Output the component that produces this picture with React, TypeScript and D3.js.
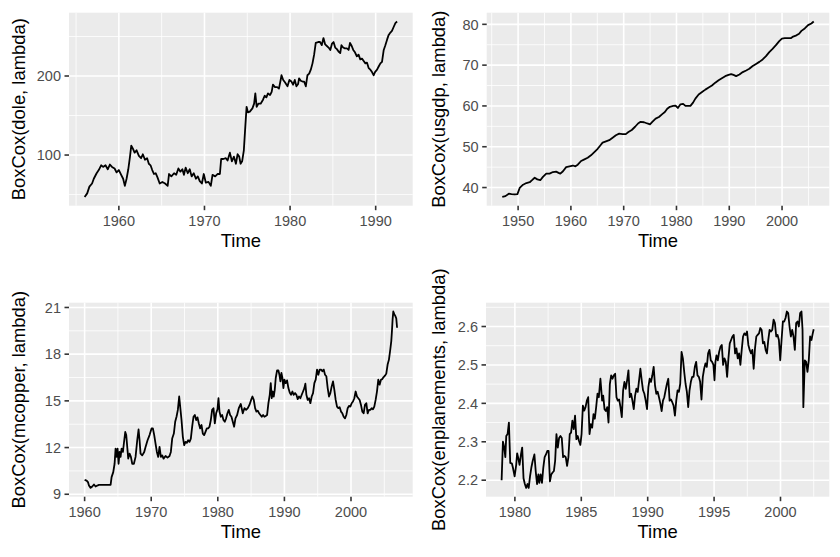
import React from "react";
import * as d3 from "d3";

// ---- Data: [decimal year, BoxCox value] ----
const doleData: [number, number][] = [
  [1956.0, 47], [1956.3, 51.5], [1956.56, 60], [1956.87, 64], [1957.07, 70], [1957.4, 77], [1957.65, 81],
  [1957.93, 87], [1958.16, 85], [1958.44, 87], [1958.7, 82], [1958.95, 88], [1959.2, 85], [1959.5, 83],
  [1959.73, 78], [1960.0, 81], [1960.27, 75], [1960.5, 70], [1960.7, 61], [1960.9, 70], [1961.1, 82],
  [1961.3, 98], [1961.45, 112], [1961.64, 108], [1961.84, 103], [1962.07, 106], [1962.34, 99], [1962.6, 96],
  [1962.8, 101], [1963.05, 94], [1963.3, 96], [1963.5, 89], [1963.7, 87], [1963.9, 81], [1964.1, 76],
  [1964.3, 77], [1964.5, 72], [1964.77, 64], [1965.08, 66], [1965.4, 64], [1965.7, 61], [1965.86, 76],
  [1966.13, 73], [1966.45, 77], [1966.7, 75], [1966.95, 83], [1967.19, 79], [1967.42, 82], [1967.6, 75],
  [1967.8, 84], [1968.05, 77], [1968.28, 82], [1968.5, 73], [1968.75, 77], [1969.0, 70], [1969.22, 73],
  [1969.45, 67], [1969.7, 64], [1969.92, 76], [1970.16, 65], [1970.47, 66], [1970.74, 61], [1970.94, 75],
  [1971.25, 73], [1971.52, 76], [1971.8, 76], [1971.95, 95], [1972.2, 95], [1972.5, 96], [1972.7, 93],
  [1972.97, 103], [1973.2, 92], [1973.44, 98], [1973.67, 89], [1973.87, 101], [1974.06, 98], [1974.22, 89],
  [1974.4, 92], [1974.6, 106], [1974.77, 136], [1974.92, 161], [1975.08, 154], [1975.3, 155], [1975.6, 159],
  [1975.8, 165], [1975.94, 178], [1976.1, 161], [1976.3, 165], [1976.56, 165], [1976.84, 170], [1977.03, 175],
  [1977.23, 173], [1977.42, 178], [1977.66, 176], [1977.85, 180], [1978.0, 189], [1978.24, 186], [1978.5, 186],
  [1978.7, 184], [1978.9, 195], [1979.0, 201], [1979.2, 195], [1979.4, 192], [1979.7, 187], [1979.92, 195],
  [1980.16, 193], [1980.35, 189], [1980.55, 195], [1980.74, 187], [1980.94, 190], [1981.05, 197], [1981.25, 194],
  [1981.45, 193], [1981.64, 193], [1981.84, 187], [1982.03, 201], [1982.23, 203], [1982.42, 208], [1982.62, 216],
  [1982.81, 227], [1983.0, 242], [1983.28, 243], [1983.5, 243], [1983.7, 239], [1983.9, 248], [1984.1, 240],
  [1984.3, 238], [1984.5, 236], [1984.7, 233], [1984.9, 241], [1985.08, 243], [1985.27, 236], [1985.47, 234],
  [1985.66, 231], [1985.86, 229], [1986.0, 239], [1986.2, 236], [1986.4, 235], [1986.64, 235], [1986.84, 233],
  [1987.0, 242], [1987.2, 238], [1987.38, 233], [1987.58, 230], [1987.8, 225], [1988.0, 227], [1988.2, 221],
  [1988.4, 222], [1988.6, 219], [1988.8, 216], [1988.98, 217], [1989.18, 210], [1989.38, 208], [1989.57, 205],
  [1989.77, 201], [1989.92, 205], [1990.16, 208], [1990.35, 212], [1990.55, 216], [1990.74, 218], [1990.94, 233],
  [1991.13, 239], [1991.33, 246], [1991.52, 252], [1991.72, 255], [1991.9, 257], [1992.1, 262], [1992.3, 267],
  [1992.5, 269],
];

const usgdpData: [number, number][] = [
  [1947.0, 37.7], [1947.6, 37.9], [1948.24, 38.5], [1948.74, 38.4], [1949.37, 38.3], [1949.87, 38.4],
  [1950.3, 39.9], [1950.94, 40.7], [1951.57, 41.1], [1952.2, 41.3], [1952.64, 41.8], [1953.14, 42.4],
  [1953.64, 42.0], [1954.2, 41.8], [1954.7, 42.6], [1955.33, 43.4], [1955.96, 43.4], [1956.6, 43.8],
  [1957.2, 43.9], [1957.66, 43.6], [1958.0, 43.4], [1958.5, 44.0], [1959.1, 45.0], [1959.73, 45.2],
  [1960.38, 45.4], [1960.86, 45.2], [1961.3, 45.6], [1961.93, 46.5], [1962.56, 46.9], [1963.18, 47.3],
  [1963.8, 47.9], [1964.44, 48.7], [1965.07, 49.5], [1965.57, 50.3], [1966.0, 51.0], [1966.64, 51.3],
  [1967.26, 51.6], [1967.9, 52.2], [1968.52, 52.8], [1969.15, 53.2], [1969.78, 53.1], [1970.4, 53.1],
  [1970.9, 53.6], [1971.53, 54.1], [1972.16, 54.9], [1972.72, 55.7], [1973.2, 56.1], [1973.85, 56.0],
  [1974.48, 55.7], [1974.98, 55.5], [1975.42, 56.1], [1976.05, 56.9], [1976.68, 57.3], [1977.3, 58.0],
  [1977.8, 58.5], [1978.25, 59.3], [1978.75, 59.8], [1979.38, 60.0], [1979.82, 60.1], [1980.26, 59.5],
  [1980.76, 60.4], [1981.26, 60.5], [1981.7, 60.0], [1982.14, 60.0], [1982.64, 60.0], [1983.14, 60.8],
  [1983.58, 61.8], [1984.2, 62.8], [1984.84, 63.4], [1985.47, 64.0], [1986.1, 64.5], [1986.72, 65.0],
  [1987.35, 65.7], [1987.98, 66.3], [1988.6, 66.8], [1989.23, 67.3], [1989.86, 67.6], [1990.36, 67.8],
  [1990.8, 67.6], [1991.3, 67.3], [1991.93, 67.7], [1992.56, 68.3], [1993.2, 68.7], [1993.8, 69.1],
  [1994.44, 69.8], [1995.07, 70.3], [1995.7, 70.8], [1996.33, 71.4], [1996.96, 72.2], [1997.58, 73.2],
  [1998.2, 74.0], [1998.84, 74.9], [1999.47, 75.9], [1999.97, 76.5], [2000.53, 76.6], [2001.16, 76.6],
  [2001.66, 76.6], [2002.1, 77.0], [2002.73, 77.3], [2003.23, 77.7], [2003.67, 78.4], [2004.3, 79.0],
  [2004.93, 79.8], [2005.55, 80.2], [2006.0, 80.7],
];

const mcopperData: [number, number][] = [
  [1960.0, 9.93], [1960.3, 9.88], [1960.5, 9.78], [1960.65, 9.56], [1960.9, 9.41], [1961.15, 9.5],
  [1961.4, 9.63], [1961.65, 9.5], [1961.9, 9.56], [1962.15, 9.6], [1963.9, 9.6], [1964.05, 10.1],
  [1964.3, 10.42], [1964.5, 10.96], [1964.65, 11.93], [1964.8, 11.4], [1964.95, 11.93], [1965.1, 10.96],
  [1965.25, 11.72], [1965.4, 11.4], [1965.55, 11.93], [1965.75, 11.72], [1965.95, 12.47], [1966.1, 13.0],
  [1966.25, 12.8], [1966.4, 12.04], [1966.55, 11.29], [1966.75, 11.61], [1966.95, 11.4], [1967.15, 10.96],
  [1967.4, 10.96], [1967.65, 11.4], [1967.9, 12.47], [1968.1, 13.16], [1968.25, 12.47], [1968.4, 11.61],
  [1968.65, 11.5], [1968.95, 11.72], [1969.15, 12.04], [1969.45, 12.47], [1969.75, 12.8], [1970.05, 13.23],
  [1970.25, 13.23], [1970.45, 12.8], [1970.65, 12.26], [1970.85, 11.72], [1971.05, 11.4], [1971.25, 12.04],
  [1971.45, 11.4], [1971.65, 11.5], [1971.85, 11.29], [1972.15, 11.46], [1972.45, 11.35], [1972.75, 11.46],
  [1972.95, 11.72], [1973.15, 12.58], [1973.4, 12.9], [1973.6, 13.66], [1973.8, 13.98], [1974.0, 14.42],
  [1974.2, 15.28], [1974.35, 14.63], [1974.55, 13.77], [1974.75, 12.69], [1974.95, 12.15], [1975.15, 12.37],
  [1975.35, 12.3], [1975.55, 12.47], [1975.75, 12.37], [1975.95, 12.58], [1976.15, 13.34], [1976.35, 13.98],
  [1976.55, 14.09], [1976.75, 13.77], [1976.95, 13.94], [1977.15, 13.55], [1977.35, 13.23], [1977.55, 13.45],
  [1977.75, 12.9], [1977.95, 12.8], [1978.15, 13.01], [1978.35, 13.23], [1978.55, 13.23], [1978.75, 13.34],
  [1978.95, 13.77], [1979.15, 14.42], [1979.35, 14.53], [1979.55, 13.55], [1979.75, 14.2], [1979.95, 14.46],
  [1980.1, 15.17], [1980.25, 14.31], [1980.45, 13.98], [1980.65, 14.09], [1980.85, 13.77], [1981.05, 13.66],
  [1981.25, 13.88], [1981.45, 14.2], [1981.65, 14.42], [1981.85, 14.09], [1982.05, 13.98], [1982.25, 13.66],
  [1982.45, 13.34], [1982.65, 13.88], [1982.9, 14.09], [1983.15, 14.53], [1983.45, 14.8], [1983.75, 14.2],
  [1984.0, 14.53], [1984.25, 14.42], [1984.5, 14.53], [1984.75, 14.74], [1985.0, 15.06], [1985.2, 15.28],
  [1985.4, 15.06], [1985.6, 14.53], [1985.8, 14.31], [1986.0, 14.37], [1986.2, 14.2], [1986.4, 14.09],
  [1986.6, 13.98], [1986.8, 14.09], [1987.0, 13.98], [1987.2, 14.03], [1987.4, 14.09], [1987.6, 14.85],
  [1987.8, 15.39], [1987.95, 16.14], [1988.1, 15.17], [1988.25, 15.6], [1988.4, 15.28], [1988.55, 15.71],
  [1988.7, 16.47], [1988.9, 16.96], [1989.1, 16.96], [1989.25, 16.68], [1989.4, 16.25], [1989.55, 16.79],
  [1989.7, 16.47], [1989.85, 15.82], [1990.0, 16.36], [1990.2, 16.14], [1990.4, 16.32], [1990.6, 15.82],
  [1990.8, 15.54], [1991.0, 15.39], [1991.2, 15.6], [1991.4, 15.39], [1991.6, 15.5], [1991.8, 15.39],
  [1992.0, 15.11], [1992.2, 15.28], [1992.4, 15.17], [1992.6, 15.39], [1992.8, 15.6], [1993.0, 15.82],
  [1993.15, 16.1], [1993.3, 15.39], [1993.5, 15.06], [1993.7, 15.17], [1993.9, 14.85], [1994.1, 15.28],
  [1994.3, 15.5], [1994.5, 16.14], [1994.7, 16.36], [1994.9, 17.01], [1995.1, 16.68], [1995.3, 17.01],
  [1995.5, 17.01], [1995.7, 16.9], [1995.9, 17.01], [1996.1, 16.68], [1996.3, 16.58], [1996.5, 15.82],
  [1996.7, 15.28], [1996.9, 15.5], [1997.1, 15.93], [1997.3, 16.25], [1997.5, 15.71], [1997.7, 15.06],
  [1997.9, 14.63], [1998.1, 14.53], [1998.3, 14.59], [1998.5, 14.31], [1998.7, 14.2], [1998.9, 13.98],
  [1999.1, 13.88], [1999.3, 14.09], [1999.5, 14.53], [1999.7, 14.68], [1999.9, 14.63], [2000.1, 14.85],
  [2000.3, 14.96], [2000.5, 15.17], [2000.7, 15.6], [2000.9, 15.28], [2001.1, 15.17], [2001.3, 15.06],
  [2001.5, 14.74], [2001.7, 14.31], [2001.9, 14.2], [2002.1, 14.74], [2002.3, 14.85], [2002.5, 14.2],
  [2002.7, 14.42], [2002.9, 14.42], [2003.1, 14.53], [2003.3, 14.46], [2003.5, 14.63], [2003.7, 15.06],
  [2003.9, 15.6], [2004.1, 16.36], [2004.3, 16.04], [2004.5, 16.36], [2004.7, 16.4], [2004.9, 16.53],
  [2005.1, 16.62], [2005.3, 16.75], [2005.5, 17.33], [2005.7, 17.65], [2005.9, 18.3], [2006.05, 18.84],
  [2006.15, 19.49], [2006.25, 20.24], [2006.35, 20.74], [2006.5, 20.57], [2006.65, 20.46], [2006.8, 20.29],
  [2006.92, 19.7],
];

const enplanementsData: [number, number][] = [
  [1979.0, 2.2], [1979.1, 2.3], [1979.2, 2.285], [1979.28, 2.26], [1979.35, 2.315], [1979.45, 2.32],
  [1979.55, 2.35], [1979.65, 2.245], [1979.78, 2.243], [1979.85, 2.233], [1979.98, 2.21], [1980.1, 2.24],
  [1980.17, 2.27], [1980.27, 2.255], [1980.35, 2.24], [1980.47, 2.27], [1980.55, 2.285], [1980.65, 2.205],
  [1980.75, 2.19], [1980.85, 2.18], [1980.95, 2.19], [1981.04, 2.18], [1981.14, 2.21], [1981.24, 2.233],
  [1981.34, 2.25], [1981.47, 2.267], [1981.57, 2.223], [1981.67, 2.19], [1981.77, 2.215], [1981.84, 2.193],
  [1981.94, 2.215], [1982.04, 2.193], [1982.14, 2.233], [1982.24, 2.26], [1982.34, 2.267], [1982.44, 2.276],
  [1982.54, 2.276], [1982.64, 2.197], [1982.74, 2.215], [1982.84, 2.22], [1982.94, 2.224], [1983.03, 2.25],
  [1983.13, 2.32], [1983.23, 2.285], [1983.33, 2.31], [1983.43, 2.315], [1983.53, 2.31], [1983.63, 2.26],
  [1983.73, 2.263], [1983.83, 2.26], [1983.93, 2.237], [1984.03, 2.26], [1984.13, 2.32], [1984.23, 2.324],
  [1984.33, 2.355], [1984.43, 2.333], [1984.53, 2.368], [1984.63, 2.307], [1984.73, 2.315], [1984.83, 2.302],
  [1984.93, 2.292], [1985.02, 2.32], [1985.12, 2.394], [1985.22, 2.381], [1985.32, 2.39], [1985.42, 2.407],
  [1985.52, 2.416], [1985.62, 2.32], [1985.72, 2.346], [1985.82, 2.337], [1985.92, 2.372], [1986.02, 2.36],
  [1986.12, 2.39], [1986.22, 2.425], [1986.32, 2.416], [1986.44, 2.464], [1986.57, 2.407], [1986.65, 2.42],
  [1986.75, 2.385], [1986.85, 2.38], [1986.95, 2.39], [1987.05, 2.35], [1987.15, 2.45], [1987.25, 2.473],
  [1987.35, 2.464], [1987.45, 2.473], [1987.55, 2.477], [1987.65, 2.416], [1987.75, 2.407], [1987.85, 2.41],
  [1987.95, 2.39], [1988.05, 2.364], [1988.15, 2.434], [1988.25, 2.456], [1988.35, 2.438], [1988.45, 2.46],
  [1988.55, 2.486], [1988.65, 2.416], [1988.75, 2.425], [1988.85, 2.407], [1988.95, 2.385], [1989.05, 2.42],
  [1989.15, 2.438], [1989.25, 2.43], [1989.35, 2.46], [1989.45, 2.49], [1989.55, 2.46], [1989.65, 2.434],
  [1989.75, 2.425], [1989.85, 2.407], [1989.95, 2.385], [1990.05, 2.442], [1990.15, 2.464], [1990.25, 2.456],
  [1990.35, 2.473], [1990.45, 2.495], [1990.55, 2.447], [1990.65, 2.425], [1990.75, 2.43], [1990.85, 2.416],
  [1990.95, 2.4], [1991.05, 2.38], [1991.15, 2.407], [1991.25, 2.416], [1991.35, 2.434], [1991.45, 2.451],
  [1991.55, 2.464], [1991.65, 2.407], [1991.75, 2.41], [1991.85, 2.403], [1991.95, 2.394], [1992.05, 2.368],
  [1992.15, 2.407], [1992.25, 2.434], [1992.35, 2.43], [1992.45, 2.451], [1992.55, 2.534], [1992.65, 2.517],
  [1992.75, 2.482], [1992.85, 2.451], [1992.95, 2.43], [1993.05, 2.39], [1993.15, 2.434], [1993.25, 2.456],
  [1993.35, 2.469], [1993.45, 2.469], [1993.55, 2.495], [1993.65, 2.508], [1993.75, 2.473], [1993.85, 2.469],
  [1993.95, 2.456], [1994.05, 2.41], [1994.15, 2.469], [1994.25, 2.49], [1994.35, 2.504], [1994.45, 2.495],
  [1994.55, 2.53], [1994.65, 2.539], [1994.75, 2.512], [1994.85, 2.508], [1994.95, 2.5], [1995.03, 2.46],
  [1995.1, 2.508], [1995.18, 2.525], [1995.28, 2.512], [1995.38, 2.534], [1995.48, 2.547], [1995.58, 2.552],
  [1995.68, 2.5], [1995.78, 2.517], [1995.88, 2.508], [1995.98, 2.469], [1996.08, 2.517], [1996.18, 2.556],
  [1996.28, 2.565], [1996.38, 2.574], [1996.48, 2.578], [1996.58, 2.53], [1996.68, 2.543], [1996.78, 2.517],
  [1996.88, 2.53], [1996.98, 2.5], [1997.08, 2.539], [1997.18, 2.574], [1997.28, 2.582], [1997.38, 2.578],
  [1997.48, 2.587], [1997.58, 2.552], [1997.68, 2.539], [1997.78, 2.53], [1997.88, 2.539], [1997.98, 2.49],
  [1998.08, 2.543], [1998.18, 2.574], [1998.28, 2.578], [1998.38, 2.582], [1998.48, 2.596], [1998.58, 2.591],
  [1998.68, 2.556], [1998.78, 2.56], [1998.88, 2.539], [1998.98, 2.53], [1999.08, 2.565], [1999.18, 2.591],
  [1999.28, 2.587], [1999.38, 2.591], [1999.48, 2.618], [1999.58, 2.609], [1999.68, 2.574], [1999.78, 2.578],
  [1999.88, 2.565], [1999.98, 2.512], [2000.08, 2.565], [2000.18, 2.613], [2000.28, 2.613], [2000.38, 2.622],
  [2000.48, 2.639], [2000.58, 2.635], [2000.68, 2.6], [2000.78, 2.574], [2000.88, 2.591], [2000.98, 2.574],
  [2001.08, 2.539], [2001.18, 2.609], [2001.28, 2.613], [2001.38, 2.6], [2001.48, 2.635], [2001.58, 2.639],
  [2001.66, 2.591], [2001.72, 2.39], [2001.83, 2.512], [2001.93, 2.508], [2002.03, 2.482], [2002.13, 2.512],
  [2002.23, 2.574], [2002.33, 2.565], [2002.43, 2.582], [2002.5, 2.593],
];

// ---- Ticks ----
const doleXTicks = [1960, 1970, 1980, 1990];
const doleYTicks = [100, 200];
const usgdpXTicks = [1950, 1960, 1970, 1980, 1990, 2000];
const usgdpYTicks = [40, 50, 60, 70, 80];
const mcopperXTicks = [1960, 1970, 1980, 1990, 2000];
const mcopperYTicks = [9, 12, 15, 18, 21];
const enplXTicks = [1980, 1985, 1990, 1995, 2000];
const enplYTicks = [2.2, 2.3, 2.4, 2.5, 2.6];

const yTitles = [
  "BoxCox(dole, lambda)",
  "BoxCox(usgdp, lambda)",
  "BoxCox(mcopper, lambda)",
  "BoxCox(enplanements, lambda)",
];

const FONT = "'Liberation Sans', Arial, Helvetica, sans-serif";
const TICK_FS = 14.5;
const TITLE_FS = 18.4;

type PanelSpec = {
  data: [number, number][];
  xTicks: number[];
  yTicks: number[];
  yFmt: (v: number) => string;
  yTitle: string;
  box: { l: number; t: number; r: number; b: number };
  yTitleX: number;
};

const panels: PanelSpec[] = [
  { data: doleData, xTicks: doleXTicks, yTicks: doleYTicks, yFmt: (v) => String(v), yTitle: yTitles[0],
    box: { l: 69, t: 12.7, r: 412.7, b: 205.7 }, yTitleX: 25 },
  { data: usgdpData, xTicks: usgdpXTicks, yTicks: usgdpYTicks, yFmt: (v) => String(v), yTitle: yTitles[1],
    box: { l: 486.7, t: 12.7, r: 829.3, b: 205.7 }, yTitleX: 445 },
  { data: mcopperData, xTicks: mcopperXTicks, yTicks: mcopperYTicks, yFmt: (v) => String(v), yTitle: yTitles[2],
    box: { l: 69, t: 302.7, r: 412.7, b: 496.7 }, yTitleX: 25 },
  { data: enplanementsData, xTicks: enplXTicks, yTicks: enplYTicks, yFmt: d3.format(".1f"), yTitle: yTitles[3],
    box: { l: 486, t: 302.7, r: 829.3, b: 496.7 }, yTitleX: 445 },
];

function expand(ext: [number, number]): [number, number] {
  const d = (ext[1] - ext[0]) * 0.05;
  return [ext[0] - d, ext[1] + d];
}

function minors(ticks: number[], dom: [number, number]): number[] {
  const step = ticks[1] - ticks[0];
  const out: number[] = [];
  const start = ticks[0] - step / 2;
  for (let v = start; v <= dom[1] + 1e-9; v += step) {
    if (v >= dom[0] && v <= dom[1]) out.push(v);
  }
  return out;
}

function Panel({ p }: { p: PanelSpec }) {
  const { l, t, r, b } = p.box;
  const xDom = expand(d3.extent(p.data, (d) => d[0]) as [number, number]);
  const yDom = expand(d3.extent(p.data, (d) => d[1]) as [number, number]);
  const x = d3.scaleLinear().domain(xDom).range([l, r]);
  const y = d3.scaleLinear().domain(yDom).range([b, t]);
  const line = d3.line<[number, number]>().x((d) => x(d[0])).y((d) => y(d[1]));
  const xMin = minors(p.xTicks, xDom);
  const yMin = minors(p.yTicks, yDom);
  const tickLen = 4.5;
  return (
    <g>
      <rect x={l} y={t} width={r - l} height={b - t} fill="#EBEBEB" />
      {yMin.map((v, i) => (
        <line key={"ym" + i} x1={l} x2={r} y1={y(v)} y2={y(v)} stroke="#fff" strokeWidth={0.8} />
      ))}
      {xMin.map((v, i) => (
        <line key={"xm" + i} x1={x(v)} x2={x(v)} y1={t} y2={b} stroke="#fff" strokeWidth={0.8} />
      ))}
      {p.yTicks.map((v, i) => (
        <line key={"yM" + i} x1={l} x2={r} y1={y(v)} y2={y(v)} stroke="#fff" strokeWidth={1.6} />
      ))}
      {p.xTicks.map((v, i) => (
        <line key={"xM" + i} x1={x(v)} x2={x(v)} y1={t} y2={b} stroke="#fff" strokeWidth={1.6} />
      ))}
      <path d={line(p.data) || ""} fill="none" stroke="#000" strokeWidth={1.8} strokeLinejoin="round" />
      {p.xTicks.map((v, i) => (
        <g key={"xt" + i}>
          <line x1={x(v)} x2={x(v)} y1={b} y2={b + tickLen} stroke="#333333" strokeWidth={1.6} />
          <text x={x(v)} y={b + 20} textAnchor="middle" fontSize={TICK_FS} fill="#4D4D4D" fontFamily={FONT}>
            {String(v)}
          </text>
        </g>
      ))}
      {p.yTicks.map((v, i) => (
        <g key={"yt" + i}>
          <line x1={l - tickLen} x2={l} y1={y(v)} y2={y(v)} stroke="#333333" strokeWidth={1.6} />
          <text x={l - tickLen - 3.5} y={y(v)} dy="0.36em" textAnchor="end" fontSize={TICK_FS} fill="#4D4D4D" fontFamily={FONT}>
            {p.yFmt(v)}
          </text>
        </g>
      ))}
      <text x={(l + r) / 2} y={b + 40.8} textAnchor="middle" fontSize={TITLE_FS} fill="#000" fontFamily={FONT}>
        Time
      </text>
      <text
        transform={`translate(${p.yTitleX},${(t + b) / 2}) rotate(-90)`}
        textAnchor="middle"
        fontSize={TITLE_FS}
        fill="#000"
        fontFamily={FONT}
      >
        {p.yTitle}
      </text>
    </g>
  );
}

export default function App() {
  return (
    <svg
      width={840}
      height={557}
      viewBox="0 0 840 557"
      style={{ position: "fixed", left: 0, top: 0, background: "#fff" }}
    >
      <rect x={0} y={0} width={840} height={557} fill="#fff" />
      {panels.map((p, i) => (
        <Panel key={i} p={p} />
      ))}
    </svg>
  );
}
